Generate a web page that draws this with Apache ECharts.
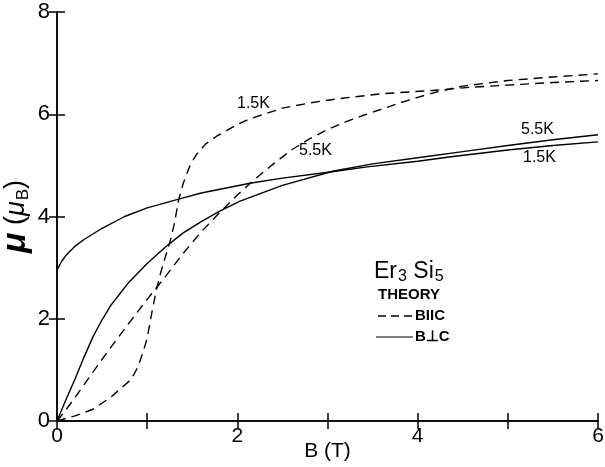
<!DOCTYPE html>
<html>
<head>
<meta charset="utf-8">
<script src="https://cdn.jsdelivr.net/npm/echarts@6/dist/echarts.min.js"></script>
<style>
  html, body { margin: 0; padding: 0; background: #fff; }
  #main { width: 605px; height: 467px; }
</style>
</head>
<body>
<div id="main"></div>
<script>
// B || c, 1.5 K (dashed)
var bPar15  = [0, 0.2, 0.4, 0.6, 0.8, 0.85, 0.9, 0.96, 1.0, 1.05, 1.1, 1.15, 1.2, 1.26, 1.3, 1.35, 1.4, 1.48, 1.55, 1.65, 1.77, 2.0, 2.14, 2.5, 2.8, 3.1, 3.6, 4.2, 4.6, 5.0, 5.5, 6.0];
var muPar15 = [0, 0.1, 0.23, 0.47, 0.78, 0.9, 1.07, 1.38, 1.62, 2.1, 2.55, 2.9, 3.2, 3.55, 3.85, 4.33, 4.65, 5.02, 5.22, 5.42, 5.57, 5.8, 5.91, 6.12, 6.22, 6.3, 6.4, 6.47, 6.53, 6.57, 6.62, 6.66];
// B || c, 5.5 K (dashed)
var bPar55  = [0, 0.1, 0.2, 0.4, 0.6, 0.8, 1.0, 1.2, 1.4, 1.6, 1.8, 2.0, 2.2, 2.4, 2.6, 2.8, 3.0, 3.2, 3.4, 3.6, 3.8, 4.0, 4.2, 4.5, 5.0, 5.5, 6.0];
var muPar55 = [0, 0.22, 0.46, 0.96, 1.45, 1.92, 2.38, 2.82, 3.28, 3.7, 4.07, 4.42, 4.74, 5.03, 5.3, 5.52, 5.7, 5.85, 5.98, 6.1, 6.22, 6.33, 6.43, 6.55, 6.66, 6.73, 6.79];
// B perp c, 1.5 K (solid)
var bPerp15  = [0, 0.05, 0.1, 0.2, 0.3, 0.5, 0.75, 1.0, 1.37, 1.6, 2.14, 2.5, 3.07, 3.44, 4.0, 4.37, 5.0, 5.5, 6.0];
var muPerp15 = [2.95, 3.12, 3.24, 3.42, 3.55, 3.77, 4.0, 4.17, 4.35, 4.46, 4.65, 4.75, 4.88, 4.97, 5.08, 5.17, 5.3, 5.39, 5.46];
// B perp c, 5.5 K (solid)
var bPerp55  = [0, 0.1, 0.2, 0.3, 0.4, 0.5, 0.6, 0.8, 1.0, 1.2, 1.4, 1.6, 1.8, 2.03, 2.5, 3.07, 3.5, 4.0, 4.5, 5.0, 5.5, 6.0];
var muPerp55 = [0, 0.42, 0.82, 1.25, 1.65, 1.98, 2.27, 2.72, 3.08, 3.4, 3.68, 3.9, 4.1, 4.3, 4.61, 4.89, 5.03, 5.15, 5.27, 5.39, 5.5, 5.6];

var xLabels = ['0', '2', '4', '6'];
var yLabels = ['0', '2', '4', '6', '8'];

function zip(xs, ys) {
  var out = [];
  for (var i = 0; i < xs.length; i++) out.push([xs[i], ys[i]]);
  return out;
}

var FONT = '"Liberation Sans", Arial, sans-serif';
var axisLine = { lineStyle: { color: '#000', width: 1.5 } };
var tickIn = { inside: true, length: 8, lineStyle: { color: '#000', width: 1.5 } };

function curve(xs, ys, dashed) {
  return {
    type: 'line',
    data: zip(xs, ys),
    showSymbol: false,
    lineStyle: { color: '#000', width: 1.4, type: dashed ? [9, 6] : 'solid', join: 'round' },
    silent: true
  };
}

var myChart = echarts.init(document.getElementById('main'));
var option = {
  animation: false,
  backgroundColor: '#fff',
  grid: { left: 57, right: 7, top: 12, bottom: 46, containLabel: false, outerBoundsMode: 'none' },
  xAxis: [
    {
      type: 'value', min: 0, max: 6, interval: 1,
      axisLine: axisLine, axisTick: tickIn, splitLine: { show: false },
      axisLabel: {
        margin: 5, color: '#000', fontSize: 21, fontFamily: FONT, hideOverlap: false,
        formatter: function (v) { return xLabels.indexOf(String(v)) >= 0 ? String(v) : ''; }
      },
      name: 'B (T)', nameLocation: 'middle', nameGap: 20, nameMoveOverlap: false,
      nameTextStyle: { color: '#000', fontSize: 21, fontFamily: FONT }
    },
    {
      type: 'value', position: 'top', min: 0, max: 6, interval: 1,
      axisLine: axisLine, axisTick: tickIn, axisLabel: { show: false }, splitLine: { show: false }
    }
  ],
  yAxis: [
    {
      type: 'value', min: 0, max: 8, interval: 2,
      axisLine: axisLine, axisTick: tickIn, splitLine: { show: false },
      axisLabel: {
        margin: 7, color: '#000', fontSize: 22, fontFamily: FONT, hideOverlap: false,
        formatter: function (v) { return yLabels.indexOf(String(v)) >= 0 ? String(v) : ''; }
      },
      name: '{i|μ} ({j|μ}{s|B})', nameLocation: 'middle', nameGap: 24, nameRotate: 90, nameMoveOverlap: false,
      nameTextStyle: {
        color: '#000', fontSize: 27, fontFamily: FONT,
        rich: {
          i: { fontSize: 34, fontStyle: 'italic', fontWeight: 'bold', fontFamily: FONT },
          j: { fontSize: 27, fontStyle: 'italic', fontFamily: FONT },
          s: { fontSize: 17, fontFamily: FONT, padding: [14, 0, 0, 1] }
        }
      }
    },
    {
      type: 'value', position: 'right', min: 0, max: 8, interval: 2,
      axisLine: axisLine, axisTick: tickIn, axisLabel: { show: false }, splitLine: { show: false }
    }
  ],
  series: [
    curve(bPar15, muPar15, true),
    curve(bPar55, muPar55, true),
    curve(bPerp15, muPerp15, false),
    curve(bPerp55, muPerp55, false)
  ],
  graphic: [
    { type: 'text', x: 237, y: 104, style: { text: '1.5K', font: '16px ' + FONT, fill: '#000', verticalAlign: 'middle' } },
    { type: 'text', x: 299, y: 151, style: { text: '5.5K', font: '16px ' + FONT, fill: '#000', verticalAlign: 'middle' } },
    { type: 'text', x: 521, y: 130, style: { text: '5.5K', font: '16px ' + FONT, fill: '#000', verticalAlign: 'middle' } },
    { type: 'text', x: 523, y: 158, style: { text: '1.5K', font: '16px ' + FONT, fill: '#000', verticalAlign: 'middle' } },
    {
      type: 'text', x: 374, y: 272,
      style: {
        text: 'Er{s|3} Si{s|5}', font: '23px ' + FONT, fill: '#000', verticalAlign: 'middle',
        rich: { s: { fontSize: 16, fontFamily: FONT, padding: [10, 0, 0, 1] } }
      }
    },
    { type: 'text', x: 378, y: 295, style: { text: 'THEORY', font: 'bold 15px ' + FONT, fill: '#000', verticalAlign: 'middle' } },
    { type: 'line', shape: { x1: 378, y1: 316, x2: 413, y2: 316 }, style: { stroke: '#000', lineWidth: 1.4, lineDash: [8, 5] } },
    { type: 'text', x: 415, y: 316, style: { text: 'BIIC', font: 'bold 15px ' + FONT, fill: '#000', verticalAlign: 'middle' } },
    { type: 'line', shape: { x1: 376, y1: 337, x2: 413, y2: 337 }, style: { stroke: '#000', lineWidth: 1.2 } },
    { type: 'text', x: 415, y: 337, style: { text: 'B⊥C', font: 'bold 15px ' + FONT, fill: '#000', verticalAlign: 'middle' } }
  ]
};
myChart.setOption(option);
</script>
</body>
</html>
